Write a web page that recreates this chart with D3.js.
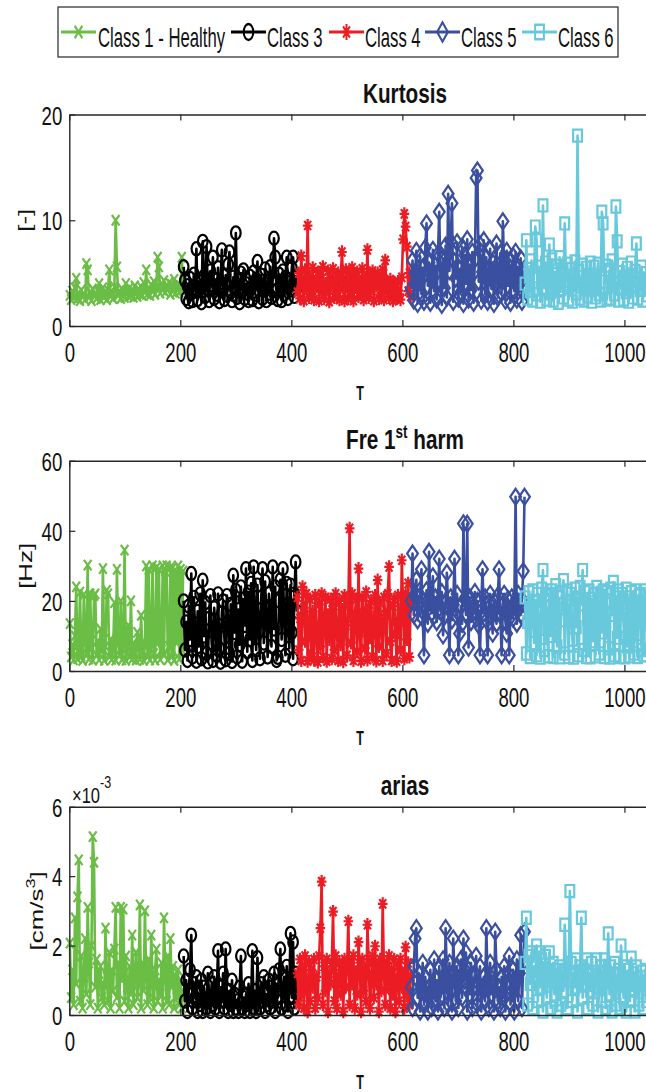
<!DOCTYPE html>
<html><head><meta charset="utf-8">
<script src="https://cdn.jsdelivr.net/npm/d3@7"></script>
<style>
body{margin:0;background:#fff;}
svg{display:block;font-family:"Liberation Sans",Arial,sans-serif;}
</style>
</head><body>
<svg id="c" width="646" height="1092"></svg>
<script>
// ---------------- DATA ----------------
const classNames = ["Class 1 - Healthy", "Class 3", "Class 4", "Class 5", "Class 6"];
const classStartT = [1, 206, 411, 616, 821];
const classEndT = [205, 410, 615, 820, 1040];
const xTickValues = [0, 200, 400, 600, 800, 1000];
const kurtosisTicks = [0, 10, 20];
const freTicks = [0, 20, 40, 60];
const ariasTicks = [0, 2, 4, 6]; // x10^-3

// Kurtosis [-]
const kurtC1 = [2.9,2.5,3.3,2.7,3.6,4.5,2.6,3.1,2.4,3.4, 2.8,3.0,2.5,5.9,5.3,2.7,3.2,2.4,3.5,2.9, 3.1,2.6,3.3,4.0,2.5,3.0,3.6,2.7,3.2,2.5, 3.4,5.3,2.8,3.1,2.6,3.7,10.0,5.6,2.9,3.3, 2.6,3.5,3.0,2.7,4.0,3.2,2.8,3.6,2.9,3.4, 2.7,3.8,3.1,2.8,3.5,3.0,3.7,2.9,4.1,3.2, 5.3,3.0,3.6,2.9,3.9,3.3,4.2,3.0,3.7,6.5, 5.6,3.1,4.0,3.4,4.3,3.2,3.8,3.5,4.1,3.0, 3.9,3.3,4.4,3.1,3.7,4.0,3.2,3.8,6.5,3.4];
const kurtC3 = [5.6,4.3,2.6,3.8,2.3,4.5,3.1,2.4,4.9,3.3, 7.3,2.5,4.2,3.6,2.2,8.0,4.7,2.8,7.5,3.4, 2.4,5.2,3.9,6.5,2.6,4.4,3.0,5.5,2.3,4.1, 7.2,3.5,2.5,4.8,2.9,5.8,7.0,3.2,2.4,4.6, 3.7,8.8,2.7,4.3,2.2,5.0,3.4,5.3,2.6,4.0, 3.1,2.4,4.7,3.6,2.5,5.1,3.0,4.4,6.1,2.3, 3.9,4.8,2.6,3.5,5.4,2.4,4.2,3.1,5.6,2.7, 4.5,8.3,6.5,3.3,2.5,4.9,3.8,2.4,5.2,3.0, 4.6,6.5,2.6,4.1,3.4,5.5,6.5,2.8,4.7,3.6];
const kurtC4 = [3.2,5.0,2.6,6.6,4.1,2.4,5.3,3.5,9.5,2.7, 4.6,3.0,5.5,2.5,4.2,3.7,5.1,2.4,4.8,3.3, 5.6,2.6,4.0,3.4,5.2,2.3,4.5,3.8,5.4,2.7, 4.3,3.1,5.0,2.5,4.7,7.0,3.6,2.4,5.3,3.9, 2.6,4.9,3.2,5.5,2.4,4.4,3.7,5.1,2.8,4.1, 3.3,5.4,2.5,4.6,3.0,7.2,2.7,4.8,3.5,5.2, 2.4,4.3,3.8,5.0,2.6,4.5,3.1,5.3,2.5,6.2, 3.4,4.0,2.7,4.4,3.2,2.4,4.1,3.6,2.6,4.2, 3.0,2.5,4.6,8.2,10.6,9.4,7.5,3.3,5.0,2.8];
const kurtC5 = [3.5,6.2,2.4,5.0,7.1,2.1,4.3,6.6,3.0,5.5, 2.3,7.4,9.7,3.8,6.0,2.2,4.8,7.2,3.3,5.7, 2.5,6.8,10.8,4.1,2.0,6.4,3.6,7.6,2.7,12.5, 5.2,8.0,11.6,2.3,6.1,4.5,7.9,2.6,5.4,3.2, 7.5,2.1,6.7,4.0,8.2,2.5,5.8,3.4,7.0,2.2, 6.3,14.0,14.7,4.2,7.7,2.4,5.1,8.1,3.0,6.5, 2.3,4.6,7.3,3.5,6.0,2.1,5.5,7.8,2.7,4.4, 6.9,3.1,9.9,5.3,2.4,7.1,3.8,6.2,2.2,5.0, 6.6,3.3,7.0,2.5,5.6,4.0,6.4,2.3,5.2,3.7];
const kurtC6 = [4.0,8.1,2.6,5.4,3.3,6.2,2.4,4.7,9.4,8.1, 3.0,5.6,2.3,4.4,11.4,3.6,6.0,2.5,5.1,7.7, 3.2,6.3,2.4,4.9,3.8,5.7,2.2,6.5,3.5,5.0, 2.7,9.7,4.3,5.9,2.5,3.9,5.4,2.3,4.6,6.1, 3.1,18.0,5.2,2.6,4.0,5.8,2.4,3.7,5.5,2.8, 4.8,6.0,2.3,3.5,5.6,2.7,4.5,5.9,3.0,2.4, 10.8,9.7,4.2,5.7,2.5,3.8,5.3,2.6,6.2,4.1, 3.0,11.3,8.0,2.4,5.1,3.6,5.8,2.5,4.4,3.2, 5.5,2.3,4.7,6.0,2.7,3.9,5.2,7.8,2.6,4.5, 3.4,5.6,2.4,4.2,5.0,2.9];

// Fre 1st harm [Hz]
const freC1 = [13.5,4.0,7.5,3.2,10.0,24.0,3.5,6.0,22.5,4.2, 3.0,21.8,8.0,5.0,30.2,3.4,22.0,6.5,3.1,21.5, 22.0,4.5,8.5,3.2,12.0,5.5,29.2,3.0,7.0,23.0, 22.0,4.0,9.0,3.3,6.0,19.5,3.1,29.0,8.0,4.5, 20.0,3.2,7.5,34.5,3.0,6.5,13.0,4.0,20.0,3.4, 8.0,5.0,3.1,11.0,7.0,3.3,15.9,5.5,3.0,8.0, 30.0,4.0,29.0,3.2,7.5,30.0,5.0,3.1,29.5,8.0, 29.0,3.3,6.0,30.0,4.5,28.5,30.0,3.2,7.0,29.5, 4.0,29.5,3.0,28.0,8.0,30.0,3.4,29.0,6.0,28.5];
const freC3 = [20.0,6.0,14.0,3.0,18.5,9.0,27.8,4.0,21.0,12.0, 2.8,17.0,7.0,22.0,3.5,25.9,10.0,19.5,5.0,2.6, 15.0,21.5,8.0,3.0,18.0,12.5,4.5,22.0,6.5,2.5, 16.5,20.0,9.5,3.2,21.5,14.0,5.0,19.0,2.7,27.3, 11.0,23.0,4.0,17.5,7.5,24.0,2.8,20.5,13.0,29.2, 5.5,22.5,9.0,25.0,3.0,29.7,16.0,6.0,24.5,11.5, 3.5,21.0,29.2,8.0,25.5,14.5,4.0,22.0,18.0,7.0, 29.7,12.0,24.0,3.0,3.9,20.0,26.0,9.0,29.2,15.0, 4.5,25.0,19.0,6.5,24.5,11.0,3.5,22.0,31.1,17.0];
const freC4 = [21.0,6.0,15.0,3.0,24.0,18.0,8.5,22.0,2.8,12.0, 20.5,5.0,17.0,3.2,21.5,10.0,2.6,19.0,7.0,22.0, 4.0,14.5,21.0,2.8,16.0,9.0,20.5,3.5,18.5,6.0, 22.0,11.5,3.0,20.0,7.5,17.5,2.7,21.5,13.0,4.5, 19.0,40.7,8.0,22.0,3.0,15.5,20.5,5.5,29.2,11.0, 2.8,21.0,16.5,6.5,22.5,3.2,18.0,9.5,20.0,4.0, 13.5,21.5,2.9,25.9,7.0,19.5,12.0,3.0,21.0,16.0, 5.0,22.0,29.7,8.5,3.0,18.5,20.5,10.5,2.8,21.5, 14.0,6.0,31.6,19.0,3.5,22.0,9.0,25.0,4.0,20.0];
const freC5 = [20.0,33.5,16.0,22.0,26.0,14.5,19.0,21.5,29.0,15.0, 4.5,18.0,23.0,13.5,34.0,20.0,16.5,27.0,15.7,21.0, 14.0,19.5,32.0,17.0,22.5,10.2,15.5,20.0,28.0,18.0, 4.5,21.0,14.5,19.0,32.0,16.0,22.0,4.5,10.7,18.5, 13.5,42.1,20.5,16.0,42.0,6.7,21.0,14.0,19.0,17.0, 22.5,15.0,20.0,13.0,4.5,18.5,29.0,16.5,21.0,14.5, 4.5,19.5,22.0,15.5,10.7,20.0,17.5,13.5,21.5,29.0, 16.0,4.5,19.0,22.0,14.0,10.7,20.5,4.5,17.0,21.0, 15.0,19.5,49.7,13.5,22.0,18.0,16.0,20.5,28.5,49.7];
const freC6 = [21.0,5.0,14.0,22.5,4.0,18.0,23.0,8.0,20.0,4.5, 22.0,12.0,3.8,23.5,28.8,6.0,21.5,16.0,4.2,22.0, 10.0,23.0,4.0,19.0,24.5,7.0,21.0,3.9,14.5,22.5, 25.9,5.0,20.0,23.0,4.0,17.0,22.0,9.0,3.8,23.5, 12.5,21.0,4.5,24.0,19.0,28.8,6.0,22.5,4.0,15.0, 23.0,3.9,20.5,8.5,22.0,4.2,24.0,18.0,5.0,21.5, 11.0,23.0,4.0,20.0,22.5,6.5,3.8,23.5,16.0,25.4, 4.5,21.0,9.5,23.0,4.0,19.5,22.0,13.0,3.9,23.5, 7.0,21.0,4.2,22.5,17.5,5.0,23.0,10.5,4.0,21.5, 22.0,6.0,20.0,4.5,23.0,19.0];

// arias [cm/s^3], in units of 10^-3
const ariasC1 = [2.07,0.5,1.3,0.3,2.8,0.9,3.4,4.47,0.4,1.7, 0.2,1.1,2.2,0.6,3.1,1.5,0.3,2.0,5.14,4.4, 0.8,1.6,0.2,1.2,1.4,0.5,0.9,0.3,2.5,1.1, 0.4,1.8,0.2,1.3,0.7,1.9,3.1,0.5,1.5,0.2, 3.1,1.0,3.05,0.4,1.7,0.8,0.2,1.4,0.6,2.3, 0.3,1.2,1.8,0.5,0.9,3.17,0.2,1.5,0.7,3.0, 1.1,0.3,1.6,0.5,2.3,0.9,0.2,1.3,1.9,0.4, 1.0,0.6,1.5,0.2,2.8,1.2,0.4,1.7,0.3,2.2, 0.8,1.4,0.2,1.1,0.5,1.3,0.3,1.0,0.2,0.7];
const ariasC3 = [1.7,0.4,1.0,0.1,0.7,1.3,2.3,0.2,0.9,0.5, 1.1,0.1,0.6,0.3,1.0,0.1,0.8,0.4,0.2,1.2, 0.5,0.1,0.9,0.3,1.1,0.2,0.6,1.85,0.1,0.8, 0.4,1.2,0.2,1.9,0.5,0.1,0.7,0.3,1.0,0.1, 0.6,0.2,0.4,0.1,0.8,1.7,0.2,0.5,0.1,0.6, 0.3,0.9,0.1,0.4,1.85,0.2,0.7,0.1,1.65,0.5, 0.2,0.9,0.4,1.1,0.1,0.6,0.3,1.0,0.2,0.8, 0.4,1.2,0.1,0.9,0.5,1.3,1.9,0.2,0.7,1.1, 0.3,1.4,0.1,0.8,2.35,0.5,2.1,0.2,1.2,0.6];
const ariasC4 = [1.2,0.3,1.6,0.6,1.4,0.2,1.7,0.9,0.1,1.5, 0.4,1.3,0.8,1.6,0.2,1.1,0.5,1.7,2.5,3.84, 0.3,1.4,0.7,1.6,0.1,1.2,0.9,1.5,2.98,0.4, 1.7,0.2,1.0,1.5,0.6,1.3,0.1,1.6,0.8,1.4, 2.7,0.3,1.5,0.9,1.7,0.2,1.2,0.6,2.1,1.4, 0.1,1.6,0.7,1.3,0.4,2.6,1.5,0.2,1.1,1.7, 0.5,1.98,0.9,1.4,0.1,1.6,0.7,3.2,1.2,0.3, 1.5,0.8,1.7,0.2,1.3,0.6,1.6,0.1,1.0,1.4, 0.4,1.6,0.8,1.2,0.2,1.95,0.6,1.5,0.3,1.1];
const ariasC5 = [0.8,0.2,1.4,2.2,2.5,0.5,1.2,0.1,0.9,1.5, 0.3,1.1,0.6,0.1,0.8,1.3,0.2,0.7,1.6,0.4, 1.0,0.1,1.4,0.5,0.9,1.6,0.2,2.5,1.1,0.3, 1.5,0.7,0.1,2.2,1.2,0.4,1.4,0.2,0.9,1.6, 0.5,2.2,1.0,1.8,0.1,1.3,0.6,1.5,0.2,0.8, 1.2,1.7,0.3,0.9,1.4,0.1,0.7,1.1,0.4,2.5, 1.0,0.2,1.5,0.6,0.9,0.1,2.4,1.3,0.4,0.8, 0.2,1.1,0.5,1.4,0.1,0.9,1.2,1.7,0.3,0.7, 1.3,0.1,1.0,1.6,0.4,1.2,2.3,0.2,1.5,2.4];
const ariasC6 = [1.5,2.8,0.3,1.7,0.9,1.8,0.2,1.4,1.1,2.0, 0.4,1.8,0.8,1.6,0.1,1.3,1.7,0.5,1.2,1.8, 0.2,1.0,1.5,0.6,1.3,0.1,0.9,1.4,0.3,1.2, 0.7,2.6,1.3,0.2,1.0,3.57,1.5,0.4,1.2,0.8, 1.6,0.1,1.1,1.4,2.8,0.5,1.3,0.9,1.6,0.2, 1.2,0.7,1.5,0.3,1.0,1.1,1.6,0.1,0.8,1.4, 0.4,1.2,1.6,0.2,1.0,2.35,0.6,1.4,0.1,1.2, 1.5,0.3,0.9,1.3,0.2,2.0,1.1,0.5,1.4,0.1, 1.0,1.3,0.4,1.65,0.7,1.2,0.1,1.4,0.9,0.3, 1.1,1.25,0.2,0.9,1.3,0.4];

// ---------------- STYLE ----------------
const colors = ["#6abd45", "#000000", "#ec1c24", "#3a4f9f", "#68c8dc"];
const markerTypes = ["x", "o", "*", "d", "s"];
const SY = 1.38; // vertical stretch of the picture

function markerPath(type) {
  const s = SY;
  switch (type) {
    case "x": { const a = 3.8; return `M${-a},${-a*s}L${a},${a*s}M${-a},${a*s}L${a},${-a*s}`; }
    case "o": { const r = 4.8, ry = r*s; return `M${-r},0A${r},${ry} 0 1,0 ${r},0A${r},${ry} 0 1,0 ${-r},0Z`; }
    case "*": { const a = 4.8, b = 3.4; return `M${-a},0H${a}M0,${-a*s}V${a*s}M${-b},${-b*s}L${b},${b*s}M${-b},${b*s}L${b},${-b*s}`; }
    case "d": { const w = 5.4, h = 5.8*s; return `M0,${-h}L${w},0L0,${h}L${-w},0Z`; }
    case "s": { const a = 4.4; return `M${-a},${-a*s}H${a}V${a*s}H${-a}Z`; }
  }
}

const svg = d3.select("#c");
svg.append("rect").attr("width", 646).attr("height", 1092).attr("fill", "#fff");

const x = d3.scaleLinear().domain([0, 1210]).range([69.3, 741]);
const axisColor = "#262626";

function stretchedText(parent, px, py, sy, txt, opts = {}) {
  const g = parent.append("g").attr("transform", `translate(${px},${py}) scale(1,${sy})${opts.rotate ? " rotate(-90)" : ""}`);
  const t = g.append("text")
    .attr("text-anchor", opts.anchor || "middle")
    .attr("font-size", opts.size || 18)
    .attr("font-weight", opts.bold ? "bold" : "normal")
    .attr("fill", opts.fill || "#111");
  if (txt !== null) t.text(txt);
  return t;
}

const panels = [
  { title: ["Kurtosis"], series: [kurtC1, kurtC3, kurtC4, kurtC5, kurtC6], top: 114.5, bottom: 326, domain: [0, 20], ticks: kurtosisTicks, ylabel: "[-]", ylx: 31 },
  { title: ["Fre 1", "st", " harm"], series: [freC1, freC3, freC4, freC5, freC6], top: 460.7, bottom: 671, domain: [0, 60], ticks: freTicks, ylabel: "[Hz]", ylx: 32 },
  { title: ["arias"], series: [ariasC1, ariasC3, ariasC4, ariasC5, ariasC6], top: 806.7, bottom: 1015, domain: [0, 6], ticks: ariasTicks, ylabel: "cm", ylx: 43 }
];

const line = d3.line().curve(d3.curveLinear);

panels.forEach((p, pi) => {
  const y = d3.scaleLinear().domain(p.domain).range([p.bottom, p.top]);
  const g = svg.append("g");

  // data
  p.series.forEach((vals, ci) => {
    const n = vals.length;
    const t0 = classStartT[ci], t1 = classEndT[ci];
    const pts = vals.map((v, i) => [x(t0 + i * (t1 - t0) / (n - 1)), y(v)]);
    const sg = g.append("g");
    sg.append("path").attr("d", line(pts)).attr("fill", "none")
      .attr("stroke", colors[ci]).attr("stroke-width", 2.6).attr("stroke-linejoin", "round");
    sg.selectAll("path.m").data(pts).join("path").attr("class", "m")
      .attr("transform", d => `translate(${d[0]},${d[1]})`)
      .attr("d", markerPath(markerTypes[ci]))
      .attr("fill", "none").attr("stroke", colors[ci]).attr("stroke-width", 2.2);
  });

  // axes
  const styleAxis = sel => {
    sel.attr("font-size", null).attr("font-family", null);
    sel.select(".domain").attr("stroke", axisColor).attr("stroke-width", 1.4);
    sel.selectAll(".tick line").attr("stroke", axisColor).attr("stroke-width", 1.2);
  };
  const gb = g.append("g").attr("transform", `translate(0,${p.bottom})`)
    .call(d3.axisBottom(x).tickValues(xTickValues).tickSizeInner(-6).tickSizeOuter(0).tickFormat(d3.format("d")));
  styleAxis(gb);
  gb.selectAll(".tick text").attr("y", 36 / 1.45).attr("dy", null)
    .attr("transform", "scale(1,1.45)").attr("font-size", 18.6).attr("fill", "#111");
  const gt = g.append("g").attr("transform", `translate(0,${p.top})`)
    .call(d3.axisTop(x).tickValues(xTickValues).tickSizeInner(-6).tickSizeOuter(0).tickFormat(() => ""));
  styleAxis(gt);
  const gl = g.append("g").attr("transform", `translate(69.3,0)`)
    .call(d3.axisLeft(y).tickValues(p.ticks).tickSizeInner(-6).tickSizeOuter(0).tickPadding(7).tickFormat(d3.format("d")));
  styleAxis(gl);
  gl.selectAll(".tick text").attr("dy", "0.36em")
    .attr("transform", "scale(1,1.42)").attr("font-size", 18.6).attr("fill", "#111");

  // title
  const tt = stretchedText(g, 405, p.top - 12, 1.3, null, { size: 20.7, bold: true });
  tt.append("tspan").text(p.title[0]);
  if (p.title.length > 1) {
    tt.append("tspan").attr("font-size", 13.5).attr("dy", -8).text(p.title[1]);
    tt.append("tspan").attr("dy", 8).text(p.title[2]);
  }

  // x label
  stretchedText(g, 360, p.bottom + 74, 1.55, "T", { size: 12.5, bold: true });

  // y label
  const cy = (p.top + p.bottom) / 2;
  const yl = stretchedText(g, p.ylx, cy, 1.4, null, { size: 18.5, rotate: true });
  if (pi === 2) {
    yl.append("tspan").text("[cm/s");
    yl.append("tspan").attr("font-size", 13).attr("dy", -8).text("3");
    yl.append("tspan").attr("dy", 8).text("]");
  } else {
    yl.text(p.ylabel);
  }

  if (pi === 2) {
    const ex = stretchedText(g, 72, p.top - 4, 1.36, null, { size: 16.5, anchor: "start" });
    ex.append("tspan").text("\u00d710");
    ex.append("tspan").attr("font-size", 12.5).attr("dy", -11).text("-3");
  }
});

// legend
const lg = svg.append("g");
lg.append("rect").attr("x", 58).attr("y", 7).attr("width", 560).attr("height", 50)
  .attr("fill", "#fff").attr("stroke", axisColor).attr("stroke-width", 1.2);
const legLineX = [61, 231, 329, 425, 522];
const legTextX = [98, 267, 365, 461, 558];
classNames.forEach((name, i) => {
  const ly = 32;
  lg.append("line").attr("x1", legLineX[i]).attr("x2", legLineX[i] + 35).attr("y1", ly).attr("y2", ly)
    .attr("stroke", colors[i]).attr("stroke-width", 3);
  lg.append("path").attr("transform", `translate(${legLineX[i] + 17.5},${ly}) scale(1,1.2)`)
    .attr("d", markerPath(markerTypes[i])).attr("fill", "none").attr("stroke", colors[i]).attr("stroke-width", 2);
  stretchedText(lg, legTextX[i], 46.5, 1.65, name, { size: 16.7, anchor: "start" });
});
</script>
</body></html>
